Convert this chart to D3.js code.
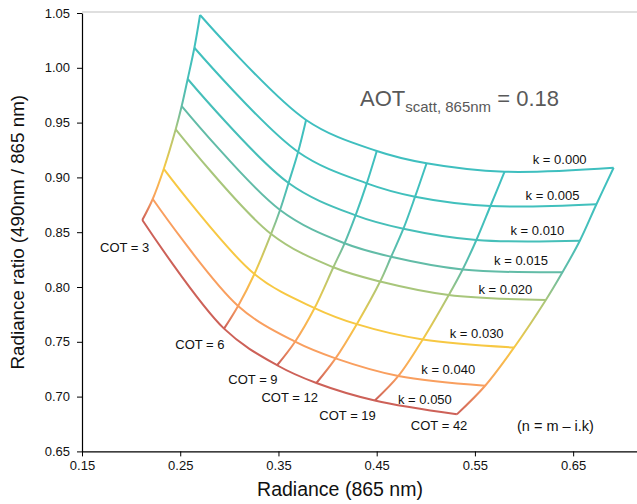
<!DOCTYPE html>
<html>
<head>
<meta charset="utf-8">
<script src="https://cdn.jsdelivr.net/npm/d3@7"></script>
<style>
  body { margin: 0; background: #fff; }
  svg { display: block; font-family: Arial, "Liberation Sans", sans-serif; }
</style>
</head>
<body>
<svg id="chart" width="637" height="504"></svg>
<script>
// Imaginary part of the refractive index (one curve each)
const kValues = [0.000, 0.005, 0.010, 0.015, 0.020, 0.030, 0.040, 0.050];
// Cloud optical thickness (one crossing line each)
const cotValues = [3, 6, 9, 12, 19, 42];

// Radiance at 865 nm: one row per k, one column per COT
const radiance = [
  [0.2702, 0.3781, 0.4501, 0.5008, 0.5802, 0.6912],
  [0.2644, 0.3700, 0.4399, 0.4891, 0.5658, 0.6737],
  [0.2576, 0.3603, 0.4285, 0.4772, 0.5515, 0.6568],
  [0.2515, 0.3516, 0.4173, 0.4647, 0.5375, 0.6391],
  [0.2454, 0.3425, 0.4059, 0.4535, 0.5234, 0.6222],
  [0.2332, 0.3255, 0.3868, 0.4297, 0.4969, 0.5899],
  [0.2220, 0.3089, 0.3669, 0.4081, 0.4721, 0.5604],
  [0.2114, 0.2946, 0.3486, 0.3886, 0.4481, 0.5316]
];
// Radiance ratio 490 nm / 865 nm, same layout
const ratio = [
  [1.0482, 0.9524, 0.9241, 0.9129, 0.9052, 0.9088],
  [1.0183, 0.9232, 0.8946, 0.8824, 0.8739, 0.8755],
  [0.9898, 0.8949, 0.8654, 0.8532, 0.8429, 0.8422],
  [0.9651, 0.8703, 0.8399, 0.8276, 0.8160, 0.8134],
  [0.9439, 0.8484, 0.8180, 0.8050, 0.7927, 0.7881],
  [0.9077, 0.8119, 0.7808, 0.7661, 0.7521, 0.7448],
  [0.8803, 0.7827, 0.7501, 0.7349, 0.7188, 0.7099],
  [0.8611, 0.7620, 0.7286, 0.7124, 0.6964, 0.6838]
];

const xTicks = [0.15, 0.25, 0.35, 0.45, 0.55, 0.65];
const yTicks = [0.65, 0.70, 0.75, 0.80, 0.85, 0.90, 0.95, 1.00, 1.05];

const kColors = ["#3fbfbf", "#41c0bd", "#46bfb9", "#62bca7", "#a8c67b", "#f7c843", "#f99f5f", "#cd6158"];

// label placement relative to the mesh nodes (pixels)
const kLabelShift = [[-27, -4], [-17, -4.5], [-15.5, -5.5], [-14.5, -7], [-13.5, -6], [-10.5, -9.5], [-10, -11.5], [-5, -10.5]];
const cotLabelShift = [[7, 31.5], [0.5, 20.5], [0.5, 18.5], [1.5, 19], [1, 19.5], [10.5, 16]];

const W = 637, H = 504;
const margin = { left: 82, top: 13, right: 0, bottom: 52.6 };

const svg = d3.select("#chart");

const x = d3.scaleLinear().domain([0.15, 0.715]).range([margin.left, W - margin.right]);
const y = d3.scaleLinear().domain([0.65, 1.05]).range([H - margin.bottom, margin.top]);

// plot-area frame (top edge)
svg.append("line")
  .attr("x1", x(0.15)).attr("x2", W)
  .attr("y1", y(1.05) - 1).attr("y2", y(1.05) - 1)
  .attr("stroke", "#d4d4d4").attr("stroke-width", 1.5);

// axes
const xAxis = svg.append("g")
  .attr("transform", `translate(0,${y(0.65)})`)
  .call(d3.axisBottom(x).tickValues(xTicks).tickFormat(d3.format(".2f")).tickSize(5).tickSizeOuter(0).tickPadding(4));
const yAxis = svg.append("g")
  .attr("transform", `translate(${x(0.15)},0)`)
  .call(d3.axisLeft(y).tickValues(yTicks).tickFormat(d3.format(".2f")).tickSize(5).tickSizeOuter(0).tickPadding(7));

[xAxis, yAxis].forEach(g => {
  g.selectAll("path.domain").attr("stroke", "#000").attr("stroke-width", 1.2);
  g.selectAll(".tick line").attr("stroke", "#000");
  g.selectAll(".tick text").attr("fill", "#111").style("font-size", "13px")
    .style("font-family", "Arial, 'Liberation Sans', sans-serif");
});

// axis titles
svg.append("text")
  .attr("x", 340).attr("y", 496)
  .attr("text-anchor", "middle")
  .style("font-size", "19.5px").attr("fill", "#111")
  .text("Radiance (865 nm)");
svg.append("text")
  .attr("transform", `translate(24,${(y(0.65) + y(1.05)) / 2}) rotate(-90)`)
  .attr("text-anchor", "middle")
  .style("font-size", "18.8px").attr("fill", "#111")
  .text("Radiance ratio (490nm / 865 nm)");

// mesh nodes in pixel space
const nodes = kValues.map((k, i) => cotValues.map((c, j) => [x(radiance[i][j]), y(ratio[i][j])]));

const curve = d3.line().curve(d3.curveCatmullRom.alpha(0.5));

const defs = svg.append("defs");
const mesh = svg.append("g").attr("fill", "none").attr("stroke-width", 2).attr("stroke-linejoin", "round");

// constant-COT lines, coloured by blending the k colours along their length
cotValues.forEach((c, j) => {
  const pts = kValues.map((k, i) => nodes[i][j]);
  const p0 = pts[0], p1 = pts[pts.length - 1];
  const dx = p1[0] - p0[0], dy = p1[1] - p0[1];
  const len2 = dx * dx + dy * dy;
  const grad = defs.append("linearGradient")
    .attr("id", "cot-grad-" + j)
    .attr("gradientUnits", "userSpaceOnUse")
    .attr("x1", p0[0]).attr("y1", p0[1]).attr("x2", p1[0]).attr("y2", p1[1]);
  pts.forEach((p, i) => {
    const t = ((p[0] - p0[0]) * dx + (p[1] - p0[1]) * dy) / len2;
    grad.append("stop").attr("offset", Math.max(0, Math.min(1, t))).attr("stop-color", kColors[i]);
  });
  mesh.append("path")
    .attr("d", curve(pts))
    .attr("stroke", `url(#cot-grad-${j})`);
});

// constant-k curves
kValues.forEach((k, i) => {
  mesh.append("path")
    .attr("d", curve(nodes[i]))
    .attr("stroke", kColors[i]);
});

// k labels near the COT = 42 end of each curve
const labels = svg.append("g").style("font-size", "13px").attr("fill", "#111");
kValues.forEach((k, i) => {
  const p = nodes[i][cotValues.length - 1];
  labels.append("text")
    .attr("x", p[0] + kLabelShift[i][0]).attr("y", p[1] + kLabelShift[i][1])
    .attr("text-anchor", "end")
    .text("k = " + d3.format(".3f")(k));
});

// COT labels below the k = 0.050 curve
cotValues.forEach((c, j) => {
  const p = nodes[kValues.length - 1][j];
  labels.append("text")
    .attr("x", p[0] + cotLabelShift[j][0]).attr("y", p[1] + cotLabelShift[j][1])
    .attr("text-anchor", "end")
    .text("COT = " + c);
});

labels.append("text")
  .attr("x", 517).attr("y", 431)
  .style("font-size", "14.5px")
  .text("(n = m \u2013 i.k)");

// aerosol optical thickness note
const aot = svg.append("text")
  .attr("x", 360).attr("y", 106)
  .attr("fill", "#595959")
  .style("font-size", "22px");
aot.append("tspan").text("AOT");
aot.append("tspan").attr("dy", 6).style("font-size", "15px").text("scatt, 865nm");
aot.append("tspan").attr("dy", -6).text(" = 0.18");
</script>
</body>
</html>
